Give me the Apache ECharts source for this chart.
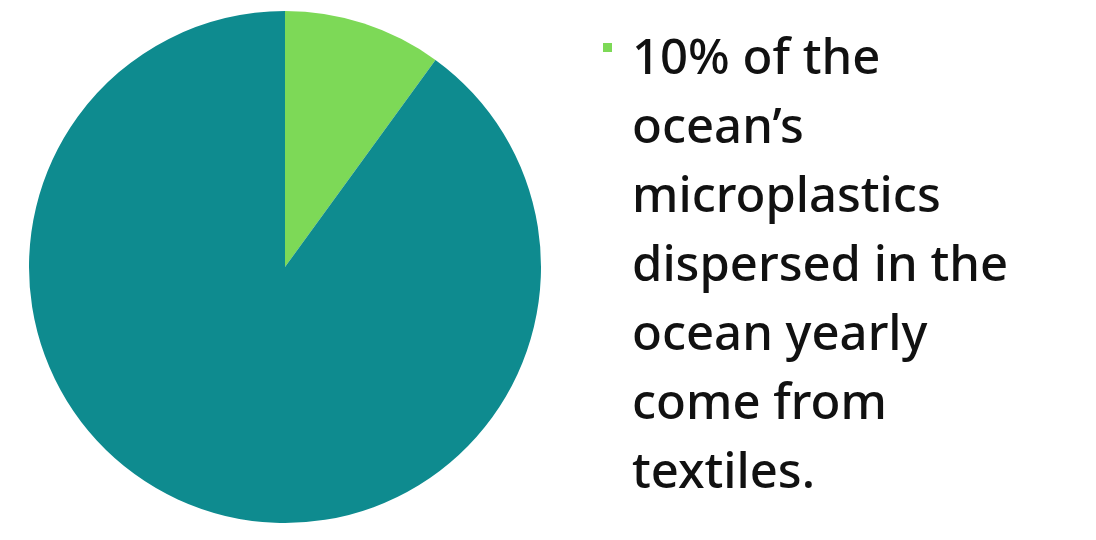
<!DOCTYPE html>
<html>
<head>
<meta charset="utf-8">
<script src="https://cdn.jsdelivr.net/npm/echarts@6/dist/echarts.min.js"></script>
<style>
  html, body { margin: 0; padding: 0; background: #fff; }
  #chart { width: 1096px; height: 540px; }
</style>
</head>
<body>
<div id="chart"></div>
<script>
// slices, clockwise from 12 o'clock
var sliceNames = ['Textiles', 'Other sources'];
var sliceValues = [10, 90];
var sliceColors = ['#7DD957', '#0E8B8F'];
// caption next to the legend square
var captionLines = [
  '10% of the',
  'ocean\u2019s',
  'microplastics',
  'dispersed in the',
  'ocean yearly',
  'come from',
  'textiles.'
];

var chart = echarts.init(document.getElementById('chart'));

var pieData = sliceNames.map(function (n, i) {
  return { name: n, value: sliceValues[i], itemStyle: { color: sliceColors[i] } };
});

chart.setOption({
  backgroundColor: '#fff',
  animation: false,
  title: {
    text: captionLines.join('\n'),
    left: 627,
    top: 21,
    textStyle: {
      fontFamily: 'Noto Sans',
      fontSize: 49,
      fontWeight: 500,
      lineHeight: 69,
      color: '#111'
    }
  },
  legend: {
    data: [sliceNames[0]],
    left: 603,
    top: 43,
    padding: 0,
    icon: 'rect',
    itemWidth: 9,
    itemHeight: 9,
    formatter: function () { return ''; },
    selectedMode: false
  },
  series: [{
    type: 'pie',
    center: [285, 267],
    radius: 256,
    startAngle: 90,
    clockwise: true,
    label: { show: false },
    labelLine: { show: false },
    emphasis: { disabled: true },
    itemStyle: { borderWidth: 0 },
    data: pieData
  }]
});
</script>
</body>
</html>
